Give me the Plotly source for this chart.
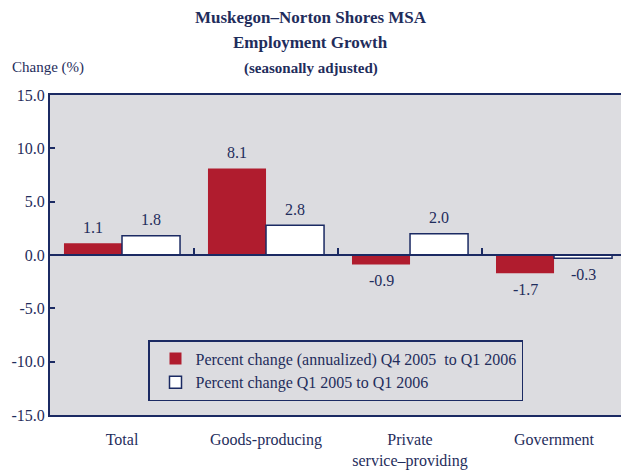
import plotly.graph_objects as go

categories = ["Total", "Goods-producing", "Private<br>service–providing", "Government"]
annualized_q4_q1 = [1.1, 8.1, -0.9, -1.7]
yoy_q1_q1 = [1.8, 2.8, 2.0, -0.3]
series_names = ["Percent change (annualized) Q4 2005  to Q1 2006",
                "Percent change Q1 2005 to Q1 2006"]
y_ticks = [-15, -10, -5, 0, 5, 10, 15]

NAVY = "#1b2a63"
TEXT = "#1f2d5c"
RED = "#b01c2e"
BG = "#dcdce0"
FONT = "Liberation Serif"
W, H = 621, 471
L, R, T, B = 50, 0, 95, 56
PW, PH = W - L - R, H - T - B
BAR_PX = 29      # half of a bar's pixel width: offset of each series within a group
LABEL_GAP = 16   # distance of value label centre from bar end

def px_x(px):
    return (px - L) / PW

def px_y(py):
    return (H - B - py) / PH

fig = go.Figure()
fig.add_trace(go.Bar(
    x=categories, y=annualized_q4_q1, name=series_names[0],
    marker=dict(color=RED, line=dict(width=0)), hoverinfo="skip",
))
fig.add_trace(go.Bar(
    x=categories, y=yoy_q1_q1, name=series_names[1],
    marker=dict(color="white", line=dict(width=1.5, color=NAVY)), hoverinfo="skip",
))
# invisible trace to carry the zero-line axis with boundary ticks
fig.add_trace(go.Scatter(x=[0.5], y=[0], xaxis="x2", mode="markers",
                         marker=dict(opacity=0), showlegend=False, hoverinfo="skip"))

annotations = [
    dict(text="<b>Muskegon–Norton Shores MSA</b>", xref="paper", yref="paper",
         x=px_x(W / 2), y=px_y(18), yanchor="middle", showarrow=False,
         font=dict(family=FONT, size=17, color=TEXT)),
    dict(text="<b>Employment Growth</b>", xref="paper", yref="paper",
         x=px_x(W / 2), y=px_y(43), yanchor="middle", showarrow=False,
         font=dict(family=FONT, size=17, color=TEXT)),
    dict(text="<b>(seasonally adjusted)</b>", xref="paper", yref="paper",
         x=px_x(W / 2), y=px_y(69), yanchor="middle", showarrow=False,
         font=dict(family=FONT, size=15, color=TEXT)),
    dict(text="Change (%)", xref="paper", yref="paper",
         x=px_x(10), y=px_y(67), xanchor="left", yanchor="middle", showarrow=False,
         font=dict(family=FONT, size=15, color=TEXT)),
]
for series, shift in ((annualized_q4_q1, -BAR_PX), (yoy_q1_q1, BAR_PX)):
    for cat, v in zip(categories, series):
        annotations.append(dict(
            x=cat, y=v, xref="x", yref="y", text=f"{v:.1f}", showarrow=False,
            xshift=shift, yshift=LABEL_GAP if v >= 0 else -LABEL_GAP,
            xanchor="center", yanchor="middle",
            font=dict(family=FONT, size=16, color=TEXT),
        ))

fig.update_layout(
    width=W, height=H,
    margin=dict(l=L, r=R, t=T, b=B),
    paper_bgcolor="white", plot_bgcolor=BG,
    barmode="group", bargap=0.194, bargroupgap=0,
    font=dict(family=FONT, color=TEXT, size=16),
    showlegend=True,
    legend=dict(
        x=px_x(148), y=px_y(340), xanchor="left", yanchor="top",
        bgcolor=BG, bordercolor=NAVY, borderwidth=1.5,
        font=dict(family=FONT, size=16, color=TEXT),
        indentation=6, itemwidth=30,
    ),
    xaxis=dict(
        range=[-0.5, 3.465], showline=True, linecolor=NAVY, linewidth=2,
        mirror=True, ticks="", showgrid=False, zeroline=False,
        ticklabelstandoff=9,
        tickfont=dict(family=FONT, size=16, color=TEXT),
    ),
    xaxis2=dict(
        range=[-0.5, 3.465], overlaying="x", anchor="free", position=0.5,
        showline=True, linecolor=NAVY, linewidth=2, ticks="inside",
        tickvals=[0.5, 1.5, 2.5], ticklen=6, tickwidth=2, tickcolor=NAVY,
        showticklabels=False, showgrid=False, zeroline=False,
    ),
    yaxis=dict(
        range=[-15, 15], tickvals=y_ticks, ticktext=[f"{v:.1f}" for v in y_ticks],
        showline=True, linecolor=NAVY, linewidth=2, mirror=False,
        ticks="inside", ticklen=5, tickwidth=1.5, tickcolor=NAVY,
        showgrid=False, zeroline=False,
        tickfont=dict(family=FONT, size=16, color=TEXT),
    ),
    annotations=annotations,
)

fig.write_html("out.html", config={"displayModeBar": False},
               post_script="document.body.style.margin='0';")
